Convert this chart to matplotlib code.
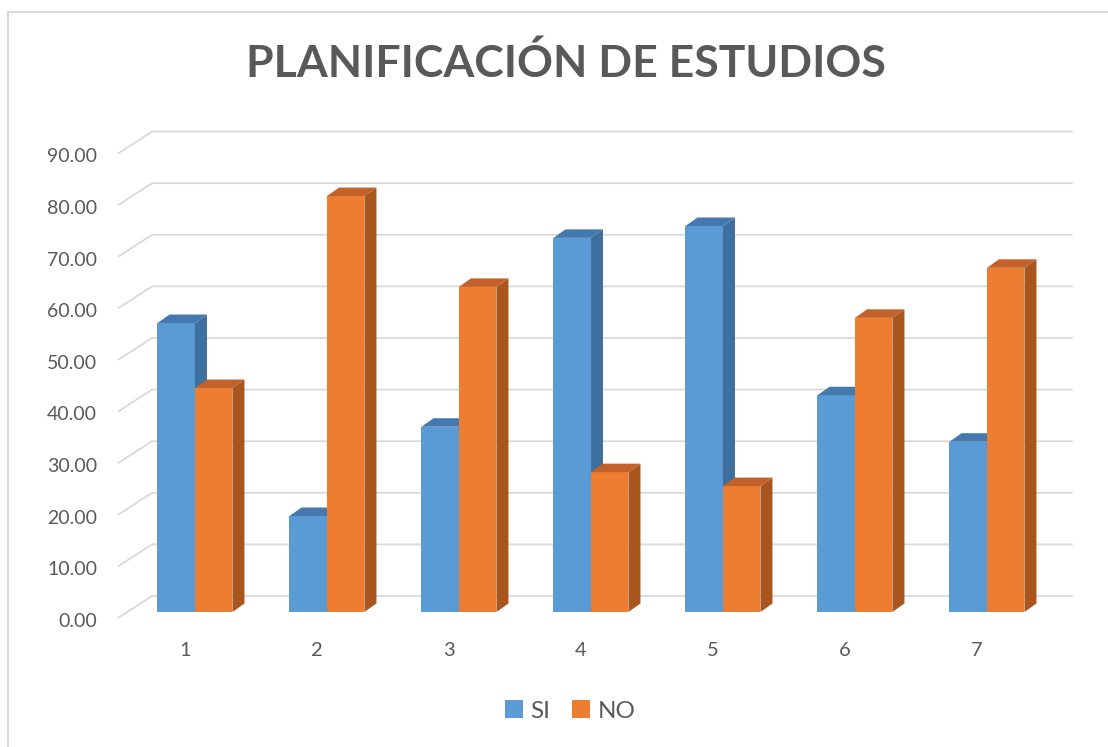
import matplotlib.pyplot as plt
from matplotlib.patches import Polygon, Rectangle, Patch

# Datos
categorias = ["1", "2", "3", "4", "5", "6", "7"]
si = [56.0, 18.6, 35.9, 72.5, 74.8, 42.0, 33.0]
no = [43.4, 80.6, 63.0, 27.1, 24.4, 57.0, 66.7]
ticks = [0, 10, 20, 30, 40, 50, 60, 70, 80, 90]

plt.rcParams['font.family'] = ['Lato', 'DejaVu Sans']
gris = '#595959'

fig = plt.figure(figsize=(11.08, 7.47), dpi=100)
ax = fig.add_axes([0, 0, 1, 1])
ax.set_xlim(-0.477, 7.917)
ax.set_ylim(-26.16, 118.6)
ax.axis('off')

# geometria 3D (oblicua)
w = 0.284          # ancho de cada barra
ddx, ddy = 0.091, 1.65   # profundidad de barra
bx, by = 0.19, 3.1       # pared del fondo
fx, fy = -0.068, -1.16   # borde frontal
x_left = 0.485
x_right = 7.65

# lineas de la cuadricula
for v in ticks:
    ax.plot([x_left + fx, x_left + bx, x_right], [v + fy, v + by, v + by],
            color='#D9D9D9', lw=1.3, zorder=1, solid_capstyle='butt')
    ax.text(0.258, v - 1.8, f"{v:.2f}", ha='right', va='center',
            fontsize=14, color=gris)


def barra(x0, h, c_front, c_side, c_top):
    x1 = x0 + w
    ax.add_patch(Polygon([(x0, 0), (x1, 0), (x1, h), (x0, h)],
                         closed=True, fc=c_front, ec='none', zorder=3))
    ax.add_patch(Polygon([(x1, 0), (x1 + ddx, ddy), (x1 + ddx, h + ddy), (x1, h)],
                         closed=True, fc=c_side, ec='none', zorder=3))
    ax.add_patch(Polygon([(x0, h), (x1, h), (x1 + ddx, h + ddy), (x0 + ddx, h + ddy)],
                         closed=True, fc=c_top, ec='none', zorder=3))


for i, (s, n) in enumerate(zip(si, no)):
    xc = i + 1
    barra(xc - w, s, '#5B9BD5', '#3F6F9E', '#4578AE')
    barra(xc, n, '#ED7D31', '#A9551E', '#C2622A')
    ax.text(xc - 0.076, -7.4, categorias[i], ha='center', va='center',
            fontsize=14.5, color=gris)

fig.text(0.511, 0.915, "PLANIFICACIÓN DE ESTUDIOS", ha='center', va='center',
         fontsize=32, fontweight='bold', color=gris)

handles = [Patch(fc='#5B9BD5', ec='none', label='SI'),
           Patch(fc='#ED7D31', ec='none', label='NO')]
fig.legend(handles=handles, loc='center', bbox_to_anchor=(570 / 1108, 1 - 711 / 747),
           ncol=2, frameon=False, fontsize=17.5, labelcolor=gris,
           handlelength=0.74, handleheight=0.74, handletextpad=0.3, columnspacing=0.9)

# borde del grafico
fig.patches.append(Rectangle((8 / 1108, -0.1), 1.2, 1.1 - 12 / 747, transform=fig.transFigure,
                             fill=False, ec='#D9D9D9', lw=1.5))

plt.savefig("out.png", dpi=100)
